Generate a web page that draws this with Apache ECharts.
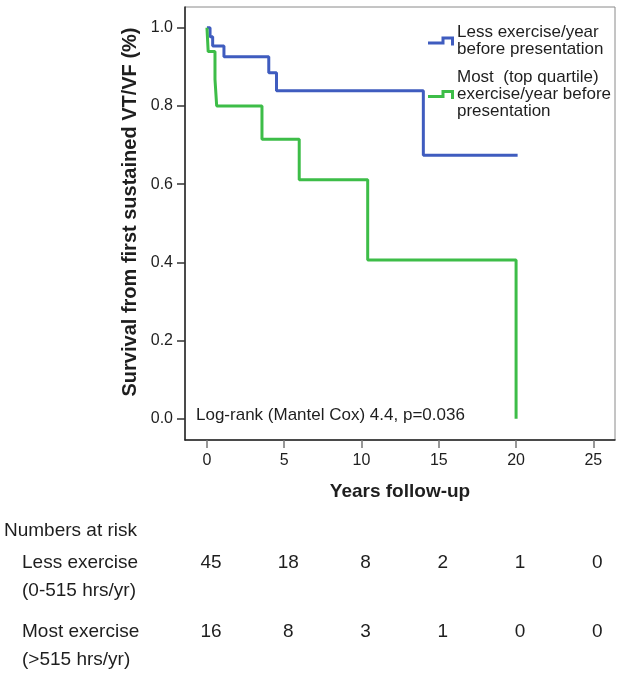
<!DOCTYPE html>
<html><head><meta charset="utf-8">
<script src="https://cdn.jsdelivr.net/npm/echarts@6/dist/echarts.min.js"></script>
<style>html,body{margin:0;padding:0;background:#fff}#c{width:624px;height:675px}</style>
</head><body><div id="c"></div>
<script>
// ---- data ----
const lessTimes    = [0, 0.2, 0.37, 1.1, 4.0, 4.5, 14.0, 20.1];
const lessSurvival = [1, 0.977, 0.953, 0.926, 0.885, 0.839, 0.674, 0.674];
const mostTimes    = [0, 0.08, 0.52, 0.63, 3.56, 5.97, 10.4, 20.0];
const mostSurvival = [1, 0.939, 0.868, 0.80, 0.715, 0.611, 0.406, 0.0];
const xTicks = [0, 5, 10, 15, 20, 25];
const yTicks = [0, 0.2, 0.4, 0.6, 0.8, 1.0];
const riskTimes = [0, 5, 10, 15, 20, 25];
const riskLess  = [45, 18, 8, 2, 1, 0];
const riskMost  = [16, 8, 3, 1, 0, 0];
const seriesNames = ['Less exercise/year\nbefore presentation', 'Most  (top quartile)\nexercise/year before\npresentation'];
const riskRowLabels = ['Less exercise\n(0-515 hrs/yr)', 'Most exercise\n(>515 hrs/yr)'];
const riskTitle = 'Numbers at risk';
const statText = 'Log-rank (Mantel Cox) 4.4, p=0.036';
const xName = 'Years follow-up';
const yName = 'Survival from first sustained VT/VF (%)';

const FONT = '"Liberation Sans", Arial, Helvetica, sans-serif';
const TXT = '#1e1e1e';
const BLUE = '#3f5cbf';
const GREEN = '#3dbd48';
const stepIcon = 'path://M0,5 L13.5,5 L13.5,0 L26,0 L26,9 L23,9 L23,3 L16.5,3 L16.5,8 L0,8 Z';

const zip = (a, b) => a.map((v, i) => [v, b[i]]);

const chart = echarts.init(document.getElementById('c'), null, {renderer: 'canvas'});
chart.setOption({
  backgroundColor: '#fff',
  animation: false,
  textStyle: {fontFamily: FONT},
  grid: {left: 185, top: 7, right: 9, bottom: 235, show: true, borderColor: '#8a8a8a', borderWidth: 1, backgroundColor: 'transparent'},
  xAxis: {
    type: 'value', min: -1.42, max: 26.4,
    name: xName, nameLocation: 'middle', nameGap: 42,
    nameTextStyle: {fontFamily: FONT, fontSize: 19, fontWeight: 'bold', color: TXT},
    axisLine: {show: true, onZero: false, lineStyle: {color: '#222', width: 1.5}},
    axisTick: {show: true, length: 8, customValues: xTicks, lineStyle: {color: '#777', width: 1.5}},
    axisLabel: {customValues: xTicks, margin: 13, fontFamily: FONT, fontSize: 16, color: TXT, formatter: v => String(v)},
    splitLine: {show: false}
  },
  yAxis: {
    type: 'value', min: -0.0545, max: 1.053,
    axisLine: {show: true, onZero: false, lineStyle: {color: '#222', width: 1.5}},
    axisTick: {show: true, length: 8, customValues: yTicks, lineStyle: {color: '#333', width: 1.5}},
    axisLabel: {customValues: yTicks, margin: 12, fontFamily: FONT, fontSize: 16, color: TXT, formatter: v => v.toFixed(1)},
    splitLine: {show: false}
  },
  legend: {
    orient: 'vertical', left: 428, top: 24, padding: 0, itemGap: 11,
    itemWidth: 26, itemHeight: 9, icon: stepIcon, selectedMode: false,
    itemStyle: {borderWidth: 0},
    textStyle: {fontFamily: FONT, fontSize: 17, lineHeight: 17, color: TXT, padding: [0, 0, 0, -2]},
    data: seriesNames
  },
  series: [
    {name: seriesNames[0], type: 'line', step: 'end', symbol: 'none', data: zip(lessTimes, lessSurvival),
     itemStyle: {color: BLUE}, lineStyle: {color: BLUE, width: 3}},
    {name: seriesNames[1], type: 'line', step: 'end', symbol: 'none', data: zip(mostTimes, mostSurvival),
     itemStyle: {color: GREEN}, lineStyle: {color: GREEN, width: 3}}
  ]
});

// texts and the numbers-at-risk table, positioned through the axis scale
const px = t => chart.convertToPixel({xAxisIndex: 0}, t);
const elements = [];
elements.push({type: 'text', x: 130, y: 212, rotation: Math.PI / 2,
  style: {text: yName, fontFamily: FONT, fontSize: 20, fontWeight: 'bold', fill: TXT, align: 'center', verticalAlign: 'middle'}});
elements.push({type: 'text', x: 196, y: 415,
  style: {text: statText, fontFamily: FONT, fontSize: 17, fill: TXT, align: 'left', verticalAlign: 'middle'}});
elements.push({type: 'text', x: 4, y: 531,
  style: {text: riskTitle, fontFamily: FONT, fontSize: 19, fill: TXT, align: 'left', verticalAlign: 'middle'}});
const rowY = [577, 646];
riskRowLabels.forEach((lab, r) => {
  elements.push({type: 'text', x: 22, y: rowY[r],
    style: {text: lab, fontFamily: FONT, fontSize: 19, lineHeight: 28, fill: TXT, align: 'left', verticalAlign: 'middle'}});
});
[riskLess, riskMost].forEach((row, r) => {
  row.forEach((n, i) => {
    elements.push({type: 'text', x: px(riskTimes[i]) + 4, y: rowY[r] - 14,
      style: {text: String(n), fontFamily: FONT, fontSize: 19, fill: TXT, align: 'center', verticalAlign: 'middle'}});
  });
});
chart.setOption({graphic: {elements: elements}});
</script>
</body></html>
